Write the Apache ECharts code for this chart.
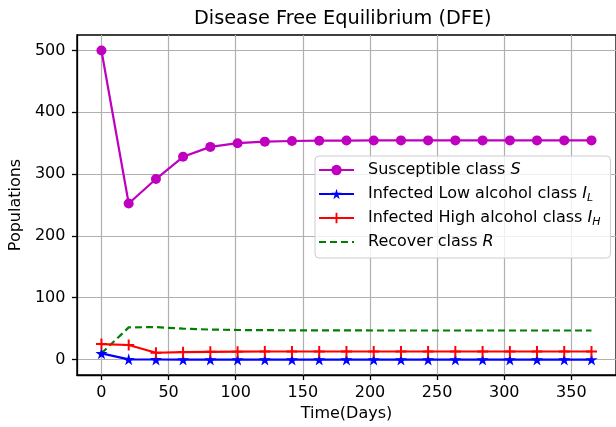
<!DOCTYPE html>
<html>
<head>
<meta charset="utf-8">
<title>Disease Free Equilibrium (DFE)</title>
<script src="https://cdn.jsdelivr.net/npm/echarts@6/dist/echarts.min.js"></script>
<style>
  html, body { margin: 0; padding: 0; background: #fff; }
  #chart { width: 616px; height: 427px; }
</style>
</head>
<body>
<div id="chart"></div>
<script>
// Time points (days) of the simulated model output
const days = [0, 20.3, 40.6, 60.8, 81.1, 101.4, 121.7, 141.9, 162.2, 182.5,
              202.8, 223.1, 243.3, 263.6, 283.9, 304.2, 324.4, 344.7, 365];

// Compartment populations at each time point
const susceptible = [500, 252.5, 292, 328, 344, 350, 352.5, 353.5, 354, 354.2,
                     354.4, 354.5, 354.5, 354.5, 354.5, 354.5, 354.5, 354.5, 354.5];
const infectedLow = [10, 0.3, 0.1, 0, 0, 0, 0, 0, 0, 0,
                     0, 0, 0, 0, 0, 0, 0, 0, 0];
const infectedHigh = [25, 23.5, 11, 12, 12.5, 12.8, 13, 13, 13, 13,
                      13, 13, 13, 13, 13, 13, 13, 13, 13];
const recovered = [10, 52, 52.5, 50, 48.5, 47.8, 47.5, 47.3, 47.2, 47.1,
                   47, 47, 47, 47, 47, 47, 47, 47, 47];

// Axis ticks
const xTicks = [0, 50, 100, 150, 200, 250, 300, 350];
const yTicks = [0, 100, 200, 300, 400, 500];

const seriesNames = ['Susceptible class S', 'Infected Low alcohol class IL',
                     'Infected High alcohol class IH', 'Recover class R'];
const legendRich = {
  'Susceptible class S': '{n|Susceptible class }{i|S}',
  'Infected Low alcohol class IL': '{n|Infected Low alcohol class }{i|I}{s|L}',
  'Infected High alcohol class IH': '{n|Infected High alcohol class }{i|I}{s|H}',
  'Recover class R': '{n|Recover class }{i|R}'
};

const pairs = (ys) => days.map((d, k) => [d, ys[k]]);

const STAR = 'path://M50,0 L61,35 L98,35 L68,57 L79,91 L50,70 L21,91 L32,57 L2,35 L39,35 Z';
const PLUS = 'path://M41,0 H59 V41 H100 V59 H59 V100 H41 V59 H0 V41 H41 Z';

const FONT = 'DejaVu Sans';

const chart = echarts.init(document.getElementById('chart'), null, { renderer: 'canvas' });
chart.setOption({
  animation: false,
  backgroundColor: '#fff',
  textStyle: { fontFamily: FONT },
  title: {
    text: 'Disease Free Equilibrium (DFE)',
    left: 194,
    top: 9,
    padding: 0,
    textStyle: { fontFamily: FONT, fontSize: 19.3, fontWeight: 'normal', color: '#000' }
  },
  grid: {
    left: 73, top: 35, right: -3, bottom: 49.5,
    show: true, borderColor: '#000', borderWidth: 1.3, backgroundColor: 'transparent'
  },
  legend: {
    orient: 'vertical',
    left: 315,
    top: 156,
    padding: [4, 10, 6, 3],
    itemGap: 4,
    itemWidth: 35,
    itemHeight: 13,
    backgroundColor: 'rgba(255,255,255,0.8)',
    borderColor: '#cccccc',
    borderWidth: 1,
    borderRadius: 4,
    data: [
      seriesNames[0],
      seriesNames[1],
      seriesNames[2],
      { name: seriesNames[3], itemStyle: { opacity: 0 } }
    ],
    formatter: (name) => legendRich[name],
    textStyle: {
      fontFamily: FONT,
      fontSize: 16,
      color: '#000',
      lineHeight: 20,
      rich: {
        n: { fontFamily: FONT, fontSize: 16, color: '#000', lineHeight: 20, padding: [0, 0, 0, 9] },
        i: { fontFamily: FONT, fontSize: 16, fontStyle: 'italic', color: '#000', lineHeight: 20 },
        s: { fontFamily: FONT, fontSize: 11, fontStyle: 'italic', color: '#000',
             lineHeight: 12, verticalAlign: 'bottom' }
      }
    }
  },
  xAxis: {
    type: 'value',
    min: -18.25,
    max: 383.25,
    name: 'Time(Days)',
    nameLocation: 'middle',
    nameGap: 31,
    nameTextStyle: { fontFamily: FONT, fontSize: 16, color: '#000' },
    axisLine: { show: true, onZero: false, lineStyle: { color: '#000', width: 1.3 } },
    axisTick: { show: true, inside: false, length: 5, customValues: xTicks,
                lineStyle: { color: '#000', width: 1.3 } },
    axisLabel: { show: true, margin: 10, customValues: xTicks,
                 fontFamily: FONT, fontSize: 16, color: '#000' },
    splitLine: { show: true, lineStyle: { color: '#b0b0b0', width: 1.2 } }
  },
  yAxis: {
    type: 'value',
    min: -25,
    max: 525,
    name: 'Populations',
    nameLocation: 'middle',
    nameRotate: 90,
    nameGap: 48.5,
    nameTextStyle: { fontFamily: FONT, fontSize: 16, color: '#000' },
    axisLine: { show: true, onZero: false, lineStyle: { color: '#000', width: 1.3 } },
    axisTick: { show: true, inside: false, length: 5, customValues: yTicks,
                lineStyle: { color: '#000', width: 1.3 } },
    axisLabel: { show: true, margin: 11.5, customValues: yTicks,
                 fontFamily: FONT, fontSize: 16, color: '#000' },
    splitLine: { show: true, lineStyle: { color: '#b0b0b0', width: 1.2 } }
  },
  series: [
    {
      name: seriesNames[0],
      type: 'line',
      data: pairs(susceptible),
      showAllSymbol: true,
      symbol: 'circle',
      symbolSize: 10,
      color: '#bf00bf',
      lineStyle: { color: '#bf00bf', width: 2.2 },
      itemStyle: { color: '#bf00bf' },
      z: 4
    },
    {
      name: seriesNames[1],
      type: 'line',
      data: pairs(infectedLow),
      showAllSymbol: true,
      symbol: STAR,
      symbolSize: 12,
      color: '#0000ff',
      lineStyle: { color: '#0000ff', width: 2.2 },
      itemStyle: { color: '#0000ff' },
      z: 3
    },
    {
      name: seriesNames[2],
      type: 'line',
      data: pairs(infectedHigh),
      showAllSymbol: true,
      symbol: PLUS,
      symbolSize: 11,
      color: '#ff0000',
      lineStyle: { color: '#ff0000', width: 2.2 },
      itemStyle: { color: '#ff0000' },
      z: 3
    },
    {
      name: seriesNames[3],
      type: 'line',
      data: pairs(recovered),
      showSymbol: false,
      symbol: 'none',
      color: '#008000',
      lineStyle: { color: '#008000', width: 2.2, type: [7, 4] },
      itemStyle: { color: '#008000' },
      z: 2
    }
  ]
});
</script>
</body>
</html>
